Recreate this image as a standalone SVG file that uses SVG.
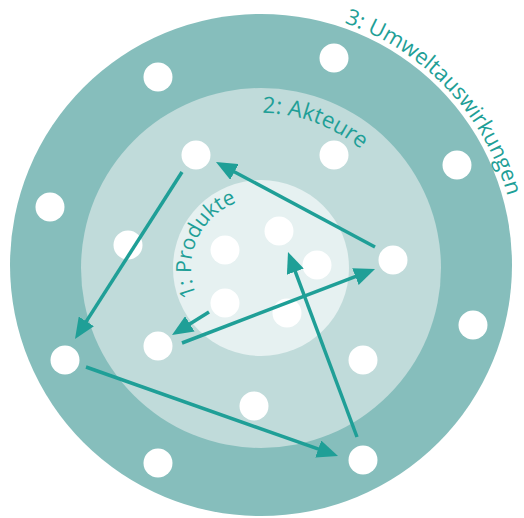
<svg xmlns="http://www.w3.org/2000/svg" xmlns:xlink="http://www.w3.org/1999/xlink" width="524" height="518" viewBox="0 0 524 518">
<style>
.dot{fill:#ffffff}
.lbl{font-family:"Open Sans",Lato,"Liberation Sans",sans-serif;font-weight:400;fill:#1f9f97}
.arrow{stroke:#1f9f97;stroke-width:3.5;fill:none;marker-end:url(#ah)}
</style>
<defs>
<marker id="ah" markerUnits="userSpaceOnUse" markerWidth="21" markerHeight="18" refX="11" refY="9" orient="auto" viewBox="0 0 21 18">
<path d="M0,0 L21,9 L0,18 z" fill="#1f9f97"/>
</marker>
<path id="p3" d="M344.3,22.9 A256,256 0 0 1 513.1,309.5"/>
<path id="p2" d="M262.4,113 A155,155 0 0 1 406.7,215"/>
<path id="p1" d="M196.6,295.3 A70,70 0 0 1 284.9,202.2"/>
</defs>
<g id="ring3">
<circle cx="261" cy="265" r="251" fill="#86bebc"/>
<text class="lbl" font-size="22"><textPath xlink:href="#p3" href="#p3">3: Umweltauswirkungen</textPath></text>
</g>
<g id="ring2">
<circle cx="261" cy="268" r="180" fill="#c0dbda"/>
<text class="lbl" font-size="22.5"><textPath xlink:href="#p2" href="#p2">2: Akteure</textPath></text>
</g>
<g id="ring1">
<circle cx="261" cy="268" r="88" fill="#e6f1f1"/>
<text class="lbl" font-size="21"><textPath xlink:href="#p1" href="#p1">1: Produkte</textPath></text>
</g>
<g id="dots3">
<circle class="dot" cx="158" cy="77" r="14.5"/>
<circle class="dot" cx="334" cy="58" r="14.5"/>
<circle class="dot" cx="457" cy="165" r="14.5"/>
<circle class="dot" cx="50" cy="207" r="14.5"/>
<circle class="dot" cx="473" cy="325" r="14.5"/>
<circle class="dot" cx="65" cy="360" r="14.5"/>
<circle class="dot" cx="158" cy="463" r="14.5"/>
<circle class="dot" cx="363" cy="460" r="14.5"/>
</g>
<g id="dots2">
<circle class="dot" cx="196" cy="155" r="14.5"/>
<circle class="dot" cx="334" cy="155" r="14.5"/>
<circle class="dot" cx="128" cy="245" r="14.5"/>
<circle class="dot" cx="393" cy="260" r="14.5"/>
<circle class="dot" cx="158" cy="346" r="14.5"/>
<circle class="dot" cx="363" cy="360" r="14.5"/>
<circle class="dot" cx="254" cy="406" r="14.5"/>
</g>
<g id="dots1">
<circle class="dot" cx="225" cy="250" r="14.5"/>
<circle class="dot" cx="279" cy="231" r="14.5"/>
<circle class="dot" cx="317" cy="265" r="14.5"/>
<circle class="dot" cx="225" cy="303" r="14.5"/>
<circle class="dot" cx="287" cy="313" r="14.5"/>
</g>
<g id="connectors">
<line class="arrow" x1="182" y1="172" x2="80.4" y2="330.6"/>
<line class="arrow" x1="375" y1="247" x2="224.8" y2="166.7"/>
<line class="arrow" x1="209" y1="312" x2="180.5" y2="329.7"/>
<line class="arrow" x1="182" y1="343" x2="365.7" y2="272.6"/>
<line class="arrow" x1="357" y1="437" x2="291.5" y2="261.4"/>
<line class="arrow" x1="86" y1="367" x2="328.6" y2="452.7"/>
</g>
</svg>
